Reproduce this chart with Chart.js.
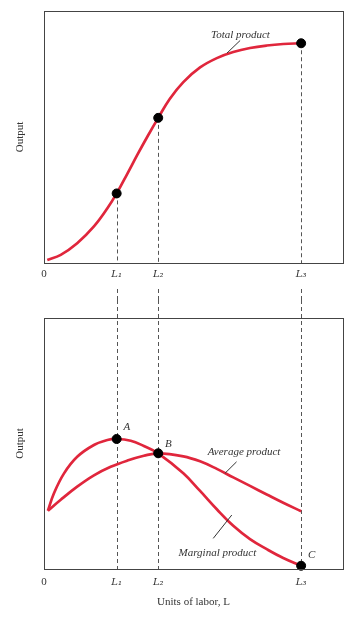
<!DOCTYPE html>
<html><head><meta charset="utf-8">
<script src="https://cdn.jsdelivr.net/npm/chart.js@4.4.1/dist/chart.umd.min.js"></script>
<style>
html,body{margin:0;padding:0;background:#fff;width:358px;height:617px;overflow:hidden}
canvas{position:absolute;left:0}
#top{top:0}
#bot{top:300px}
</style>
</head><body>
<canvas id="top" width="358" height="300"></canvas>
<canvas id="bot" width="358" height="317"></canvas>
<script>
// ---- data (x in labor units, y in output units) ----
const laborTicks = [0, 24.3, 38.2, 86.0];
const tickLabels = ['0', 'L\u2081', 'L\u2082', 'L\u2083'];
const markerLabor = [24.3, 38.2, 86.0];

const tpX = [1.1, 5.6, 11.1, 16.7, 21.2, 24.3, 27.9, 31.2, 34.6, 38.2, 42.1, 46.6, 52.2, 57.8, 63.3, 68.9, 74.5, 80.0, 86.0];
const tpY = [1.2, 3.2, 7.8, 14.5, 21.7, 27.6, 35.5, 42.9, 50.2, 57.6, 65.2, 71.8, 77.6, 81.3, 83.7, 85.3, 86.3, 86.9, 87.2];
const tpMarkers = [27.6, 57.6, 87.2];

const mpX = [1.3, 3.3, 6.7, 11.1, 16.7, 21.2, 24.3, 29.0, 33.4, 38.2, 46.6, 52.2, 57.8, 63.3, 68.9, 74.5, 80.0, 86.0];
const mpY = [23.2, 30.1, 38.1, 44.7, 49.4, 51.4, 51.8, 51.1, 49.0, 46.1, 38.1, 31.1, 23.8, 17.2, 11.9, 7.9, 4.4, 1.3];
const apX = [1.3, 5.6, 11.1, 16.7, 22.3, 27.9, 33.4, 38.2, 46.6, 52.2, 57.8, 63.3, 68.9, 74.5, 80.0, 86.0];
const apY = [23.2, 27.6, 32.8, 37.3, 40.7, 43.2, 45.1, 46.1, 44.9, 42.9, 39.9, 36.5, 33.1, 29.7, 26.4, 23.0];
const bottomMarkers = [51.8, 46.1, 1.3];

const RED = '#e0263c';
const FRAME = '#444';
const TEXT = '#333';
const SERIF = "'Liberation Serif', 'DejaVu Serif', serif";

const pts = (xs, ys) => xs.map((x, i) => ({x, y: ys[i]}));

// labels with optional leader lines, in data coordinates
const topNotes = [{text: 'Total product', x: 65.7, y: 90.5, italic: true, leader: [65.6, 88.3, 61.2, 83.3]}];
const botNotes = [
  {text: 'Average product', x: 66.9, y: 46.7, italic: true, leader: [64.4, 42.7, 60.5, 38.1]},
  {text: 'Marginal product', x: 58.0, y: 6.4, italic: true, leader: [62.8, 21.5, 56.6, 12.2]},
  {text: 'A', x: 27.7, y: 56.5, italic: true},
  {text: 'B', x: 41.6, y: 49.8, italic: true},
  {text: 'C', x: 89.5, y: 5.6, italic: true}
];

function framePlugin(notes, dashMode, tops) {
  return {
    id: 'deco',
    beforeDatasetsDraw(chart) {
      const {ctx, chartArea: a, scales: {x, y}} = chart;
      ctx.save();
      ctx.strokeStyle = '#555';
      ctx.lineWidth = 1;
      ctx.setLineDash([4, 3]);
      markerLabor.forEach((L, i) => {
        const px = Math.round(x.getPixelForValue(L)) + 0.5;
        ctx.beginPath();
        if (dashMode === 'top') {
          ctx.moveTo(px, y.getPixelForValue(tops[i]));
          ctx.lineTo(px, a.bottom);
          ctx.moveTo(px, a.bottom + 26);
          ctx.lineTo(px, chart.height);
        } else {
          ctx.moveTo(px, 0);
          ctx.lineTo(px, a.bottom);
        }
        ctx.stroke();
      });
      ctx.restore();
    },
    afterDatasetsDraw(chart) {
      const {ctx, chartArea: a, scales: {x, y}} = chart;
      ctx.save();
      ctx.strokeStyle = FRAME;
      ctx.lineWidth = 1;
      ctx.strokeRect(Math.round(a.left) + 0.5, Math.round(a.top) + 0.5, Math.round(a.right - a.left), Math.round(a.bottom - a.top));
      notes.forEach(n => {
        ctx.font = (n.italic ? 'italic ' : '') + '11px ' + SERIF;
        ctx.fillStyle = TEXT;
        ctx.textAlign = 'center';
        ctx.textBaseline = 'middle';
        ctx.fillText(n.text, x.getPixelForValue(n.x), y.getPixelForValue(n.y));
        if (n.leader) {
          ctx.strokeStyle = TEXT;
          ctx.lineWidth = 1;
          ctx.beginPath();
          ctx.moveTo(x.getPixelForValue(n.leader[0]), y.getPixelForValue(n.leader[1]));
          ctx.lineTo(x.getPixelForValue(n.leader[2]), y.getPixelForValue(n.leader[3]));
          ctx.stroke();
        }
      });
      ctx.restore();
    }
  };
}

function xScale(height, pad, title) {
  return {
    type: 'linear', min: 0, max: 100,
    grid: {display: false, drawTicks: false},
    border: {display: false},
    afterBuildTicks: s => { s.ticks = laborTicks.map(v => ({value: v})); },
    afterFit: s => { s.height = height; },
    ticks: {
      padding: pad,
      color: TEXT,
      autoSkip: false,
      maxRotation: 0,
      font: ctx => ({family: ctx.index === 0 ? SERIF : "'DejaVu Serif', serif", size: ctx.index === 0 ? 11 : 10, style: ctx.index === 0 ? 'normal' : 'italic'}),
      callback: (v, i) => tickLabels[i]
    },
    title: title ? {display: true, text: title, color: TEXT, font: {family: SERIF, size: 11}, padding: {top: 0, bottom: 8.4}} : {display: false}
  };
}

function yScale() {
  return {
    type: 'linear', min: 0, max: 100,
    grid: {display: false, drawTicks: false},
    border: {display: false},
    ticks: {display: false},
    afterFit: s => { s.width = 44; },
    title: {display: true, text: 'Output', color: TEXT, font: {family: SERIF, size: 11}, padding: {top: 13.4, bottom: 0}}
  };
}

const common = {
  responsive: false,
  animation: false,
  devicePixelRatio: 1,
  plugins: {legend: {display: false}, tooltip: {enabled: false}}
};

const lineStyle = {showLine: true, borderColor: RED, borderWidth: 2.7, pointRadius: 0, tension: 0.4, clip: false};
const dotStyle = {showLine: false, pointRadius: 4.5, backgroundColor: '#000', borderColor: '#000', clip: false, order: 0};

new Chart(document.getElementById('top'), {
  type: 'scatter',
  data: {
    datasets: [
      Object.assign({data: pts(tpX, tpY), order: 2}, lineStyle),
      Object.assign({data: pts(markerLabor, tpMarkers)}, dotStyle)
    ]
  },
  options: Object.assign({}, common, {
    layout: {padding: {top: 11, right: 15, left: 0, bottom: 0}},
    scales: {x: xScale(37, 5, null), y: yScale()}
  }),
  plugins: [framePlugin(topNotes, 'top', tpMarkers)]
});

new Chart(document.getElementById('bot'), {
  type: 'scatter',
  data: {
    datasets: [
      Object.assign({data: pts(mpX, mpY), order: 3}, lineStyle),
      Object.assign({data: pts(apX, apY), order: 2}, lineStyle),
      Object.assign({data: pts(markerLabor, bottomMarkers)}, dotStyle)
    ]
  },
  options: Object.assign({}, common, {
    layout: {padding: {top: 18, right: 15, left: 0, bottom: 0}},
    scales: {x: xScale(48, 7, 'Units of labor, L'), y: yScale()}
  }),
  plugins: [framePlugin(botNotes, 'bottom', bottomMarkers)]
});
</script>
</body></html>
